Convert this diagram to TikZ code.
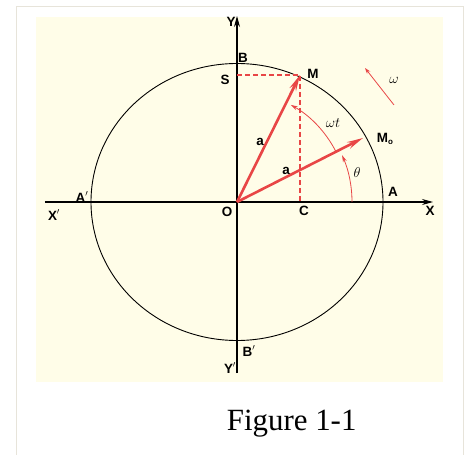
\documentclass[tikz,border=0pt]{standalone}
\usepackage{fontspec}
\setmainfont{Liberation Sans}
\newfontfamily\capfont{Liberation Serif}
\usetikzlibrary{arrows.meta}
\definecolor{bgyellow}{RGB}{255,253,232}
\definecolor{framegray}{RGB}{231,228,218}
\definecolor{vecred}{RGB}{232,70,70}
\tikzset{
  axis/.style={line width=1.2bp, -{Stealth[length=11bp,width=6bp]}},
  vector/.style={vecred, line width=2.6bp, -{Stealth[length=16bp,width=7bp]}},
  projline/.style={vecred, line width=1.1bp, dash pattern=on 5bp off 3bp},
  anglearc/.style={vecred, line width=0.8bp, -{Stealth[length=7bp,width=4bp]}},
  greek/.style={font=\fontsize{15}{15}\selectfont}
}
\begin{document}
\begin{tikzpicture}[x=1bp, y=1bp, >=stealth, every node/.style={font=\bfseries\fontsize{13.5}{14}\selectfont, inner sep=0pt}]
        \useasboundingbox (-237,-253) rectangle (233,202);
        \fill[bgyellow] (-201,-179.5) rectangle (206,185);
        \draw[framegray, line width=1.6bp] (-220.5,-253) -- (-220.5,195.5) -- (226.5,195.5) -- (226.5,-253);

        \coordinate (O) at (0,0);
        \coordinate (Xl) at (-192,0);
        \coordinate (Xr) at (196,0);
        \coordinate (Yb) at (0,-171);
        \coordinate (Yt) at (0,186);
        \coordinate (M) at (63,127);
        \coordinate (Mo) at (126,64);
        \coordinate (S) at (0,127);
        \coordinate (C) at (63,0);
        \coordinate (w1) at (157,97);
        \coordinate (w2) at (128,134);

        \draw[line width=0.9bp] (O) ellipse [x radius=146, y radius=138.5];
        \draw[axis] (Xl)--(Xr);
        \draw[axis] (Yb)--(Yt);
        \draw[projline] (S)--(M)--(C);
        \draw[anglearc] (O) ++(0:115) arc[start angle=0, end angle=24, radius=115];
        \draw[anglearc] (O) ++(27:111) arc[start angle=27, end angle=61, radius=111];
        \draw[vector] (O)--(M);
        \draw[vector] (O)--(Mo);
        \draw[vecred, line width=0.8bp, -{Stealth[length=6bp,width=4bp]}] (w1)--(w2);

        \node (lY) at (-6,180) {Y};
        \node (lX) at (193,-9) {X};
        \node (lXp) at (-183,-13) {X$'$};
        \node (lYp) at (-7,-166) {Y$'$};
        \node (lA) at (156,10) {A};
        \node (lAp) at (-155,5) {A$'$};
        \node (lB) at (6,144.5) {B};
        \node (lBp) at (12,-149) {B$'$};
        \node (lO) at (-10,-10) {O};
        \node (lC) at (67,-9) {C};
        \node (lS) at (-12,122) {S};
        \node (lM) at (76,128) {M};
        \node (lMo) at (148,63) {M\raisebox{-.3ex}{\footnotesize o}};
        \node (la1) at (23,60) {a};
        \node (la2) at (49,31) {a};
        \node[greek] (lwt) at (96,79) {$\omega t$};
        \node[greek] (lth) at (120,29) {$\theta$};
        \node[greek] (lw) at (157,122) {$\omega$};

        \node[font=\capfont\fontsize{31}{34}\selectfont, anchor=base] (cap) at (54.7,-228.7) {Figure 1-1};
    \end{tikzpicture}
\end{document}
